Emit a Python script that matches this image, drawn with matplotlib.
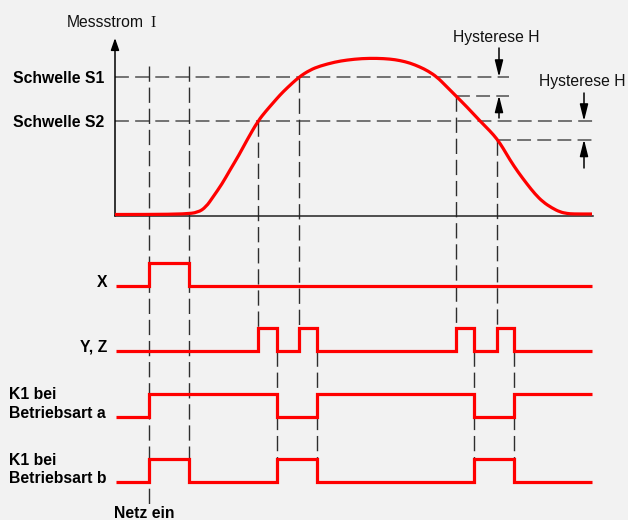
import matplotlib
matplotlib.use('Agg')
import matplotlib.pyplot as plt
from matplotlib.patches import FancyArrowPatch, PathPatch
from matplotlib.path import Path

plt.rcParams['font.family'] = ['Liberation Sans', 'DejaVu Sans']
plt.rcParams['lines.scale_dashes'] = False

# ---------------- data ----------------
# measuring current curve: time (schematic units) and current above baseline
curve_t = [115, 150, 185, 198, 206, 213, 222, 230, 239, 247, 258, 266, 273, 280, 287,
           299, 310, 320, 335, 347, 362, 377, 390, 400, 410, 420, 428, 437, 446, 455,
           467, 480, 490, 497, 503, 510, 518, 527, 535, 543, 552, 560, 567, 573, 592]
curve_i = [1.5, 1.5, 2, 3.5, 9, 19, 32, 46, 61, 76, 95, 105, 113, 121, 128,
           139, 146, 150, 154, 156, 157.5, 157.7, 157, 155.5, 153, 149, 145, 139, 130, 121,
           109, 95, 85, 77, 68, 56, 44, 32, 22, 14, 8, 4, 2.5, 2, 2]

S1 = 139          # threshold S1
S2 = 95           # threshold S2
HYST = 18.5       # hysteresis H

# switching instants of the logic signals
edges = [115, 149, 189, 258, 277, 299, 317, 456, 474, 497, 514, 592]
sig_X   = [0, 1, 0, 0, 0, 0, 0, 0, 0, 0, 0]
sig_YZ  = [0, 0, 0, 1, 0, 1, 0, 1, 0, 1, 0]
sig_K1a = [0, 1, 1, 1, 0, 0, 1, 1, 0, 0, 1]
sig_K1b = [0, 1, 0, 0, 1, 1, 0, 0, 1, 1, 0]

t_netz = 149      # Netz ein
t_x_off = 189
t_s2_up, t_s1_up = 258, 299
t_s1h_down, t_s2h_down = 456, 497
t_yz_fall = [277, 317, 474, 514]

# ---------------- layout ----------------
BG = '#f2f2f2'
RED = '#ff0000'
base_y = 216                       # baseline row of the current plot
sig_low = [286, 351, 417, 482]     # low level rows of the signals
amp = 23.5
x_end = 593

def cy(i):
    return base_y - i

fig = plt.figure(figsize=(6.28, 5.20), dpi=100, facecolor=BG)
ax = fig.add_axes([0, 0, 1, 1])
ax.set_facecolor(BG)
ax.set_xlim(0, 628)
ax.set_ylim(520, 0)
ax.axis('off')

hkw = dict(color='#5c5c5c', lw=1.2, dashes=(10, 4.5), zorder=1)
vkw = dict(color='#2e2e2e', lw=1.0, dashes=(11, 4.2), zorder=1)

# horizontal threshold lines
ax.plot([115, 509], [cy(S1), cy(S1)], **hkw)
ax.plot([115, x_end], [cy(S2), cy(S2)], **hkw)
ax.plot([t_s1h_down, 509], [cy(S1 - HYST)] * 2, **hkw)
ax.plot([t_s2h_down, x_end], [cy(S2 - HYST)] * 2, **hkw)

# vertical guide lines
yz_high = sig_low[1] - amp
yz_low = sig_low[1]
k1b_high = sig_low[3] - amp
ax.plot([t_netz, t_netz], [66, 505], **vkw)
ax.plot([t_x_off, t_x_off], [66, k1b_high], **vkw)
ax.plot([t_s2_up] * 2, [cy(S2), yz_high], **vkw)
ax.plot([t_s1_up] * 2, [cy(S1), yz_high], **vkw)
ax.plot([t_s1h_down] * 2, [cy(S1 - HYST), yz_high], **vkw)
ax.plot([t_s2h_down] * 2, [cy(S2 - HYST), yz_high], **vkw)
for t in t_yz_fall:
    ax.plot([t, t], [yz_low, k1b_high], **vkw)

# axes of current plot
ax.plot([115, x_end], [base_y, base_y], color='#222222', lw=1.1, zorder=2)
ax.add_patch(FancyArrowPatch((115, base_y), (115, 38), arrowstyle='-|>,head_length=0.72,head_width=0.25',
                             mutation_scale=10, color='#000000', lw=1.1, shrinkA=0, shrinkB=0, zorder=2))

# current curve, drawn as a smooth quadratic-Bezier path through the read points
pts = [(t, cy(v)) for t, v in zip(curve_t, curve_i)]
verts = [pts[0]]
codes = [Path.MOVETO]
for k in range(1, len(pts) - 1):
    mid = ((pts[k][0] + pts[k + 1][0]) / 2, (pts[k][1] + pts[k + 1][1]) / 2)
    verts += [pts[k], mid]
    codes += [Path.CURVE3, Path.CURVE3]
verts.append(pts[-1])
codes.append(Path.LINETO)
ax.add_patch(PathPatch(Path(verts, codes), facecolor='none', edgecolor=RED, lw=2.3,
                       capstyle='butt', joinstyle='round', zorder=3))

# logic signals
for states, low in zip([sig_X, sig_YZ, sig_K1a, sig_K1b], sig_low):
    ys = [low - amp * s for s in states]
    ys = ys + [ys[-1]]
    ax.step([116] + edges[1:], ys, where='post', color=RED, lw=2.3, zorder=3,
            solid_joinstyle='miter', solid_capstyle='butt')

# hysteresis arrows
akw = dict(arrowstyle='-|>,head_length=1.0,head_width=0.25', mutation_scale=10,
           color='#000000', lw=1.1, shrinkA=0, shrinkB=0, zorder=4)
ax.add_patch(FancyArrowPatch((499, 48), (499, cy(S1)), **akw))
ax.add_patch(FancyArrowPatch((499, 118), (499, cy(S1 - HYST)), **akw))
ax.add_patch(FancyArrowPatch((584, 93), (584, cy(S2)), **akw))
ax.add_patch(FancyArrowPatch((584, 168), (584, cy(S2 - HYST)), **akw))

# texts
fs = 11.3
ax.text(67, 27, 'Messstrom', fontsize=fs, ha='left', va='baseline', color='#111111')
ax.text(150.5, 27, 'I', fontsize=fs, ha='left', va='baseline', color='#111111',
        family=['Liberation Serif', 'DejaVu Serif'])
ax.text(453, 42, 'Hysterese H', fontsize=fs, ha='left', va='baseline', color='#111111')
ax.text(539, 86, 'Hysterese H', fontsize=fs, ha='left', va='baseline', color='#111111')
ax.text(104, cy(S1), 'Schwelle S1', fontsize=fs, fontweight='bold', ha='right', va='center_baseline')
ax.text(104, cy(S2), 'Schwelle S2', fontsize=fs, fontweight='bold', ha='right', va='center_baseline')
ax.text(107, sig_low[0] + 1, 'X', fontsize=fs, fontweight='bold', ha='right', va='baseline')
ax.text(107, sig_low[1] + 1, 'Y, Z', fontsize=fs, fontweight='bold', ha='right', va='baseline')
ax.text(9, sig_low[2] - 18, 'K1 bei', fontsize=fs, fontweight='bold', ha='left', va='baseline')
ax.text(9, sig_low[2] + 1, 'Betriebsart a', fontsize=fs, fontweight='bold', ha='left', va='baseline')
ax.text(9, sig_low[3] - 17, 'K1 bei', fontsize=fs, fontweight='bold', ha='left', va='baseline')
ax.text(9, sig_low[3] + 1, 'Betriebsart b', fontsize=fs, fontweight='bold', ha='left', va='baseline')
ax.text(144, 518, 'Netz ein', fontsize=fs, fontweight='bold', ha='center', va='baseline')

fig.savefig('out.png', dpi=100, facecolor=BG)
